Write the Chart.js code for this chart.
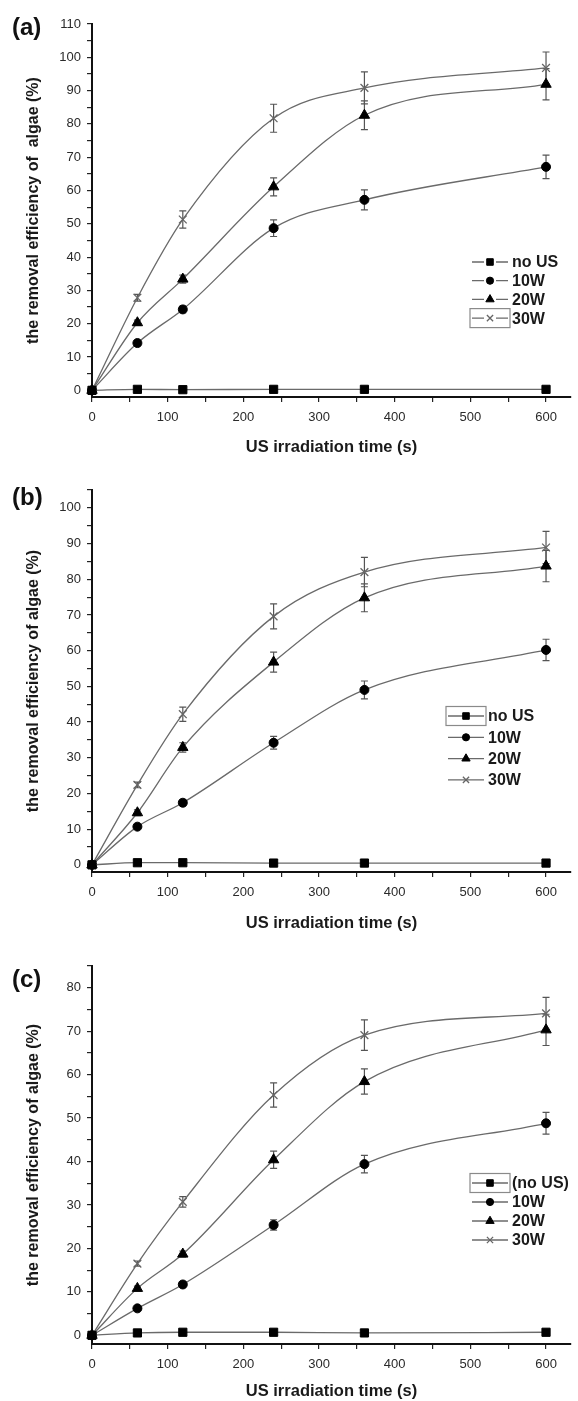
<!DOCTYPE html>
<html>
<head>
<meta charset="utf-8">
<script src="https://cdn.jsdelivr.net/npm/chart.js@4.4.1/dist/chart.umd.min.js"></script>
<style>
  body { margin: 0; background: #fff; width: 578px; height: 1401px; position: relative; overflow: hidden; }
  canvas { position: absolute; left: 0; }
  .tag { position: absolute; left: 12px; font: bold 24px "Liberation Sans", Arial, sans-serif; color: #111; }
</style>
</head>
<body>
<canvas id="chartA" width="578" height="460" style="top:0"></canvas>
<canvas id="chartB" width="578" height="475" style="top:460px"></canvas>
<canvas id="chartC" width="578" height="466" style="top:935px"></canvas>
<div class="tag" style="top:13px">(a)</div>
<div class="tag" style="top:483px">(b)</div>
<div class="tag" style="top:965px">(c)</div>
<script>
const times = [0, 60, 120, 240, 360, 600];
const seriesNames = ['no US', '10W', '20W', '30W'];
const seriesNamesC = ['(no US)', '10W', '20W', '30W'];
const xTickLabels = [0, 100, 200, 300, 400, 500, 600];
const yTicksA = [0, 10, 20, 30, 40, 50, 60, 70, 80, 90, 100, 110];
const yTicksB = [0, 10, 20, 30, 40, 50, 60, 70, 80, 90, 100];
const yTicksC = [0, 10, 20, 30, 40, 50, 60, 70, 80];

// (a)
const noUsA = [0, 0.3, 0.2, 0.3, 0.3, 0.3];
const w10A = [0, 14.2, 24.3, 48.7, 57.2, 67.1];
const w20A = [0, 20.3, 33.4, 61.1, 82.6, 91.9];
const w30A = [0, 27.8, 51.3, 81.7, 90.8, 96.8];
const w10ErrA = [0, 0.8, 1.0, 2.5, 3.0, 3.5];
const w20ErrA = [0, 0.8, 1.2, 2.7, 4.3, 4.7];
const w30ErrA = [0, 1.0, 2.6, 4.2, 4.8, 4.8];

// (b)
const noUsB = [0, 0.6, 0.6, 0.5, 0.5, 0.5];
const w10B = [0, 10.7, 17.4, 34.2, 49.0, 60.2];
const w20B = [0, 14.6, 32.9, 56.8, 74.8, 83.7];
const w30B = [0, 22.4, 42.2, 69.6, 82.0, 88.9];
const w10ErrB = [0, 0.5, 0.8, 1.8, 2.5, 3.0];
const w20ErrB = [0, 0.8, 1.3, 2.8, 3.9, 4.4];
const w30ErrB = [0, 0.8, 2.0, 3.5, 4.1, 4.5];

// (c)
const noUsC = [0, 0.55, 0.7, 0.7, 0.55, 0.7];
const w10C = [0, 6.2, 11.7, 25.4, 39.4, 48.8];
const w20C = [0, 10.8, 18.7, 40.4, 58.4, 70.3];
const w30C = [0, 16.5, 30.7, 55.3, 69.1, 74.1];
const w10ErrC = [0, 0.4, 0.6, 1.2, 2.0, 2.5];
const w20ErrC = [0, 0.5, 0.7, 2.0, 2.9, 3.6];
const w30ErrC = [0, 0.6, 1.2, 2.8, 3.5, 3.7];

Chart.defaults.font.family = '"Liberation Sans", Arial, sans-serif';

const pointStyles = ['rect', 'circle', 'triangle', 'crossRot'];
const pointSizes = [5.8, 4.5, 6, 5.5];

function buildDatasets(names, values, errors) {
  return values.map((vals, i) => ({
    label: names[i],
    data: times.map((t, j) => ({ x: t, y: vals[j] })),
    errors: errors[i],
    borderColor: '#6a6a6a',
    borderWidth: 1.3,
    pointStyle: pointStyles[i],
    pointRadius: pointSizes[i],
    pointBorderWidth: i === 3 ? 1.3 : 1,
    pointBackgroundColor: i === 3 ? '#666' : '#000',
    pointBorderColor: i === 3 ? '#666' : '#000',
    cubicInterpolationMode: 'monotone',
    clip: false
  }));
}

// vertical error bars with caps, drawn under the lines
const errorBars = {
  id: 'errorBars',
  beforeDatasetsDraw(chart) {
    const { ctx, scales: { x, y } } = chart;
    ctx.save();
    ctx.strokeStyle = '#555';
    ctx.lineWidth = 1.2;
    chart.data.datasets.forEach((ds) => {
      if (!ds.errors) return;
      ds.data.forEach((p, j) => {
        const e = ds.errors[j];
        if (!e) return;
        const px = x.getPixelForValue(p.x);
        const top = y.getPixelForValue(p.y + e);
        const bot = y.getPixelForValue(p.y - e);
        ctx.beginPath();
        ctx.moveTo(px, top); ctx.lineTo(px, bot);
        ctx.moveTo(px - 3.5, top); ctx.lineTo(px + 3.5, top);
        ctx.moveTo(px - 3.5, bot); ctx.lineTo(px + 3.5, bot);
        ctx.stroke();
      });
    });
    ctx.restore();
  }
};

// legend drawn inside the plot, Origin style
const boxLegend = {
  id: 'boxLegend',
  afterDraw(chart, args, opts) {
    const ctx = chart.ctx;
    ctx.save();
    chart.data.datasets.forEach((ds, i) => {
      const yy = opts.top + i * opts.step;
      const mid = (opts.left + opts.right) / 2;
      if (i === opts.framed) {
        ctx.strokeStyle = '#8a8a8a';
        ctx.lineWidth = 1.2;
        ctx.strokeRect(opts.left - 2, yy - 9.5, opts.right - opts.left + 4, 19);
      }
      ctx.strokeStyle = '#6a6a6a';
      ctx.lineWidth = 1.3;
      ctx.beginPath();
      if (opts.gapped) {
        ctx.moveTo(opts.left, yy); ctx.lineTo(mid - 6, yy);
        ctx.moveTo(mid + 6, yy); ctx.lineTo(opts.right, yy);
      } else {
        ctx.moveTo(opts.left, yy); ctx.lineTo(opts.right, yy);
      }
      ctx.stroke();
      ctx.fillStyle = ds.pointBackgroundColor;
      ctx.strokeStyle = ds.pointBorderColor;
      ctx.lineWidth = ds.pointBorderWidth;
      Chart.helpers.drawPoint(ctx, {
        pointStyle: ds.pointStyle, radius: ds.pointRadius * 0.8,
        borderWidth: ds.pointBorderWidth, rotation: 0
      }, mid, yy);
      ctx.fillStyle = '#1a1a1a';
      ctx.font = 'bold 16px "Liberation Sans", Arial, sans-serif';
      ctx.textBaseline = 'middle';
      ctx.fillText(ds.label, opts.textX, yy + 1);
    });
    ctx.restore();
  }
};

function makeChart(id, datasets, p) {
  return new Chart(document.getElementById(id), {
    type: 'line',
    data: { datasets },
    plugins: [errorBars, boxLegend],
    options: {
      responsive: false,
      animation: false,
      layout: { padding: { top: p.top, left: 0, right: 0, bottom: 0 } },
      plugins: {
        legend: { display: false },
        tooltip: { enabled: false },
        boxLegend: p.legend
      },
      scales: {
        x: {
          type: 'linear',
          min: 0,
          max: 633,
          border: { color: '#111', width: 2 },
          grid: { drawOnChartArea: false, tickLength: 5, color: '#222', lineWidth: 1.2 },
          ticks: {
            stepSize: 50, includeBounds: false, autoSkip: false, maxRotation: 0,
            padding: 8, color: '#2a2a2a', font: { size: 13 },
            callback: (v) => (xTickLabels.includes(v) ? String(v) : '')
          },
          title: {
            display: true, text: 'US irradiation time (s)', color: '#1a1a1a',
            font: { size: 16.5, weight: 'bold' }, padding: { top: 0, bottom: p.xTitlePad }
          },
          afterFit: (s) => { s.height = p.xHeight; }
        },
        y: {
          type: 'linear',
          min: -2,
          max: p.yMax,
          border: { color: '#111', width: 2 },
          grid: { drawOnChartArea: false, tickLength: 5, color: '#222', lineWidth: 1.2 },
          ticks: {
            stepSize: 5, includeBounds: false, autoSkip: false,
            padding: 6, color: '#2a2a2a', font: { size: 13 },
            callback: (v) => (p.yTicks.includes(v) ? String(v) : '')
          },
          title: {
            display: true, text: p.yTitle, color: '#1a1a1a',
            font: { size: 16, weight: 'bold' }, padding: { top: 24, bottom: 0 }
          },
          afterFit: (s) => { s.width = 92; }
        }
      }
    }
  });
}

makeChart('chartA',
  buildDatasets(seriesNames, [noUsA, w10A, w20A, w30A], [null, w10ErrA, w20ErrA, w30ErrA]),
  {
    top: 24, yMax: 110, yTicks: yTicksA, xHeight: 63, xTitlePad: 3,
    yTitle: 'the removal efficiency of  algae (%)',
    legend: { left: 472, right: 508, textX: 512, top: 262, step: 18.7, gapped: true, framed: 3 }
  });

makeChart('chartB',
  buildDatasets(seriesNames, [noUsB, w10B, w20B, w30B], [null, w10ErrB, w20ErrB, w30ErrB]),
  {
    top: 30, yMax: 105, yTicks: yTicksB, xHeight: 63, xTitlePad: 2,
    yTitle: 'the removal efficiency of algae (%)',
    legend: { left: 448, right: 484, textX: 488, top: 256, step: 21.3, gapped: false, framed: 0 }
  });

makeChart('chartC',
  buildDatasets(seriesNamesC, [noUsC, w10C, w20C, w30C], [null, w10ErrC, w20ErrC, w30ErrC]),
  {
    top: 31, yMax: 85, yTicks: yTicksC, xHeight: 57, xTitlePad: 0,
    yTitle: 'the removal efficiency of algae (%)',
    legend: { left: 472, right: 508, textX: 512, top: 248, step: 19, gapped: false, framed: 0 }
  });
</script>
</body>
</html>
